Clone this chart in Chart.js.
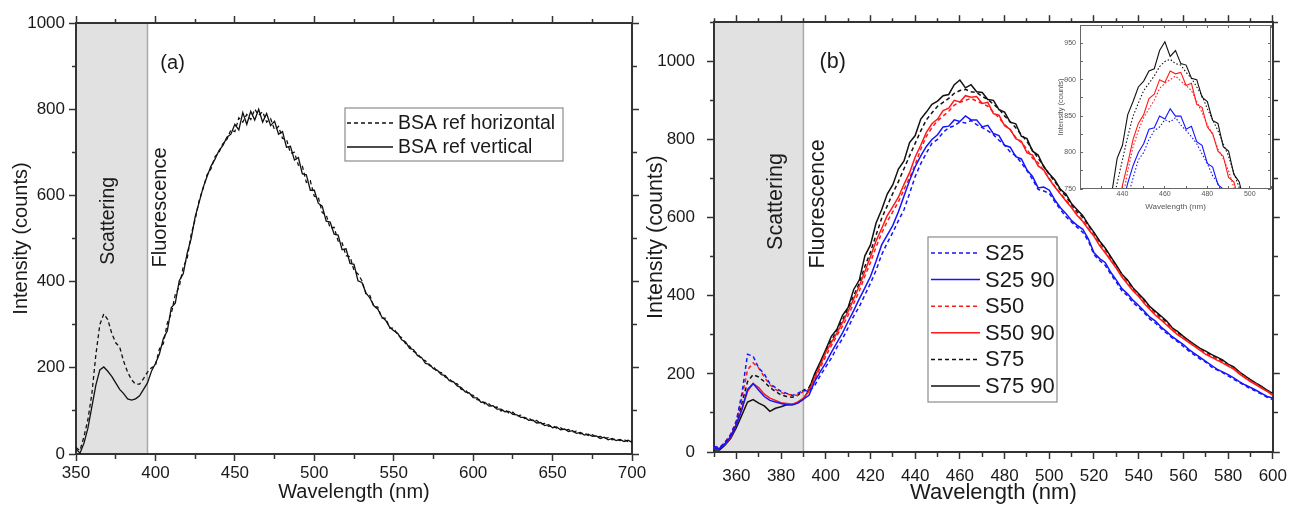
<!DOCTYPE html>
<html>
<head>
<meta charset="utf-8">
<title>BSA fluorescence spectra</title>
<script src="https://cdn.jsdelivr.net/npm/chart.js@4.4.1/dist/chart.umd.min.js"></script>
<style>
  html, body { margin: 0; padding: 0; background: #fff; }
  body { width: 1294px; height: 506px; position: relative; overflow: hidden; }
  canvas { position: absolute; }
  #chartA { left: 0; top: 0; }
  #chartB { left: 640px; top: 0; }
  #chartInset { left: 1035px; top: 12px; }
</style>
</head>
<body>
<canvas id="chartA" width="660" height="506"></canvas>
<canvas id="chartB" width="654" height="506"></canvas>
<canvas id="chartInset" width="240" height="200"></canvas>
<script>
// ---- panel (a): BSA reference, 350-700 nm ----
var wlA = [
  350,352.5,355,357.5,360,362.5,365,367.5,370,372.5,375,377.5,380,382.5,385,387.5,390,392.5,395,397.5,
  400,402.5,405,407.5,410,412.5,415,417.5,420,422.5,425,427.5,430,432.5,435,437.5,440,442.5,445,447.5,
  450,452.5,455,457.5,460,462.5,465,467.5,470,472.5,475,477.5,480,482.5,485,487.5,490,492.5,495,497.5,
  500,502.5,505,507.5,510,512.5,515,517.5,520,522.5,525,527.5,530,532.5,535,537.5,540,542.5,545,547.5,
  550,552.5,555,557.5,560,562.5,565,567.5,570,572.5,575,577.5,580,582.5,585,587.5,590,592.5,595,597.5,
  600,602.5,605,607.5,610,612.5,615,617.5,620,622.5,625,627.5,630,632.5,635,637.5,640,642.5,645,647.5,
  650,652.5,655,657.5,660,662.5,665,667.5,670,672.5,675,677.5,680,682.5,685,687.5,690,692.5,695,697.5,
  700
];
var bsaHorizontal = [
  15,8,40,80,140,230,300,325,312,280,258,248,215,190,172,162,162,175,190,200,
  205,244,256,304,326,370,388,434,454,510,544,588,616,648,662,690,700,720,730,752,
  748,780,770,788,776,800,786,794,770,778,752,760,732,730,698,700,670,668,630,634,
  598,596,560,555,524,526,494,490,460,458,426,418,402,372,368,342,341,316,315,292,
  292,276,270,256,250,238,233,220,216,205,203,190,189,178,175,164,163,150,149,138,
  136,126,125,116,116,108,109,100,103,95,97,88,90,82,84,76,78,70,71,64,
  66,60,61,55,57,51,53,47,49,43,45,40,41,36,38,33,35,31,33,29,
  30
];
var bsaVertical = [
  12,2,25,60,110,160,195,202,192,180,165,150,140,128,125,128,135,150,165,192,
  210,232,268,286,340,350,402,418,466,500,550,584,618,644,668,684,704,716,735,742,
  765,752,792,765,795,775,800,770,790,762,772,742,748,712,714,682,688,650,648,612,
  612,582,575,540,538,510,508,474,476,442,440,402,398,374,362,344,336,318,310,294,
  286,280,265,260,245,242,228,224,210,208,198,194,184,182,170,168,158,154,144,142,
  131,130,120,120,111,112,104,104,98,99,92,91,85,85,78,79,72,73,66,68,
  61,63,56,58,52,54,48,50,44,46,41,42,36,39,33,36,31,34,29,32,
  27
];
var xLabelsA = [350, 400, 450, 500, 550, 600, 650, 700];
var yLabelsA = [0, 200, 400, 600, 800, 1000];

// ---- panel (b): S25 / S50 / S75, 350-600 nm ----
var wlB = [
  350,352.5,355,357.5,360,362.5,365,367.5,370,372.5,375,377.5,380,382.5,385,387.5,390,392.5,395,397.5,
  400,402.5,405,407.5,410,412.5,415,417.5,420,422.5,425,427.5,430,432.5,435,437.5,440,442.5,445,447.5,
  450,452.5,455,457.5,460,462.5,465,467.5,470,472.5,475,477.5,480,482.5,485,487.5,490,492.5,495,497.5,
  500,502.5,505,507.5,510,512.5,515,517.5,520,522.5,525,527.5,530,532.5,535,537.5,540,542.5,545,547.5,
  550,552.5,555,557.5,560,562.5,565,567.5,570,572.5,575,577.5,580,582.5,585,587.5,590,592.5,595,597.5,
  600
];
var s25 = [
  15,10,25,45,80,150,250,245,215,200,175,165,155,150,145,150,158,155,170,195,
  218,240,268,290,318,348,372,402,432,465,505,535,562,592,620,662,705,738,765,790,
  800,818,830,835,845,842,848,838,830,822,812,798,785,768,758,740,720,698,672,668,
  662,640,620,602,588,575,562,540,505,490,478,455,435,412,400,382,370,356,340,330,
  316,304,292,282,270,258,248,238,230,218,210,203,195,186,178,170,162,155,148,140,
  134
];
var s25_90 = [
  10,8,22,40,70,110,160,175,158,142,132,128,124,121,120,125,135,145,180,205,
  228,255,280,305,334,362,392,420,449,488,530,555,580,615,655,695,730,758,782,800,
  812,832,834,850,846,860,850,850,832,836,815,810,785,780,756,750,722,705,676,678,
  670,645,625,610,592,580,570,545,510,495,485,460,440,418,405,388,375,360,345,335,
  320,308,295,285,275,262,252,242,232,222,212,205,198,190,180,172,165,158,150,142,
  138
];
var s50 = [
  12,12,25,45,78,140,210,228,215,192,172,160,152,148,146,145,155,160,185,215,
  245,272,298,322,350,380,412,450,485,525,560,590,615,640,672,702,735,775,808,830,
  848,860,872,888,895,900,905,898,892,885,870,855,838,825,805,792,775,752,740,720,
  700,680,662,645,628,608,592,572,555,532,512,492,472,452,432,415,400,382,368,352,
  340,328,315,302,292,282,272,262,252,245,238,230,222,214,203,192,182,174,165,156,
  148
];
var s50_90 = [
  8,10,20,38,70,110,155,175,165,148,138,132,126,124,122,128,138,155,190,222,
  255,280,305,332,360,392,425,462,500,540,572,605,628,652,685,715,755,785,818,840,
  852,874,880,900,896,912,908,910,892,895,866,862,835,826,802,795,766,760,732,722,
  698,678,660,642,625,605,590,570,552,528,510,490,470,448,430,412,398,380,365,350,
  338,325,312,300,290,280,270,260,250,243,235,228,220,212,200,190,180,172,163,155,
  145
];
var s75 = [
  10,8,20,40,72,125,180,198,192,180,165,155,146,142,140,145,158,165,195,225,
  258,285,312,338,368,400,432,475,512,555,598,630,662,692,725,758,790,822,850,868,
  885,895,905,918,925,928,922,920,910,902,890,878,860,845,830,812,795,772,752,732,
  710,692,670,655,632,615,600,580,560,538,520,498,476,454,438,418,403,388,370,358,
  345,332,316,305,294,283,273,263,256,248,240,233,223,216,204,194,184,175,166,157,
  148
];
var s75_90 = [
  5,5,18,35,62,95,128,134,125,118,104,112,116,121,122,126,135,160,200,230,
  262,296,314,350,370,416,440,502,530,586,620,660,684,724,745,792,810,852,870,890,
  898,912,915,940,952,932,940,922,920,902,900,876,870,844,840,808,802,770,760,730,
  712,696,672,660,635,620,605,582,562,540,522,500,478,455,440,420,405,390,372,360,
  348,335,318,308,296,285,275,265,258,250,243,236,225,218,205,195,185,176,168,158,
  150
];
var xLabelsB = [360, 380, 400, 420, 440, 460, 480, 500, 520, 540, 560, 580, 600];
var yLabelsB = [0, 200, 400, 600, 800, 1000];
var xLabelsInset = [440, 460, 480, 500];
var yLabelsInset = [750, 800, 850, 900, 950];

var BLUE = '#1414ff', RED = '#ff1a1a', BLACK = '#111';
var AXIS = '#333', TEXT = '#1a1a1a';

Chart.defaults.font.family = "'Liberation Sans', Arial, sans-serif";
Chart.defaults.color = TEXT;

function pts(wl, vals) {
  return wl.map(function (w, i) { return { x: w, y: vals[i] }; });
}

function line(label, wl, vals, color, dashed, width) {
  return {
    label: label,
    data: pts(wl, vals),
    borderColor: color,
    borderWidth: width,
    borderDash: dashed ? [4, 3] : [],
    pointRadius: 0,
    tension: 0,
    fill: false
  };
}

// one side of the frame: outward ticks, long on labelled values, short otherwise
function frameAxis(pos, min, max, step, labels, o) {
  var horiz = pos === 'top' || pos === 'bottom';
  var main = pos === 'bottom' || pos === 'left';
  var tl = 7, ml = 4;
  var ax = {
    type: 'linear', position: pos, min: min, max: max,
    afterFit: function (s) { if (horiz) s.height = o.size; else s.width = o.size; },
    ticks: {
      display: main, stepSize: step, autoSkip: false, maxRotation: 0,
      padding: o.pad || 0, color: TEXT, font: { size: 17 },
      callback: function (v) { return labels.indexOf(v) >= 0 ? String(v) : ''; }
    },
    grid: {
      drawOnChartArea: false, tickLength: tl, tickColor: AXIS, tickWidth: 1.5,
      tickBorderDash: function (c) {
        if (!c.tick || labels.indexOf(c.tick.value) >= 0) return [];
        return (pos === 'top' || pos === 'left') ? [0, tl - ml, ml, 50] : [ml, 50];
      }
    },
    border: { color: AXIS, width: 2 }
  };
  if (o.title) {
    ax.title = {
      display: true, text: o.title, color: TEXT, font: { size: o.titleSize },
      padding: horiz ? { top: 0, bottom: o.titlePad } : { top: o.titlePad, bottom: 0 }
    };
  }
  return ax;
}

// grey "Scattering" band, drawn under the axes
var shadePlugin = {
  id: 'shade',
  beforeDraw: function (chart, args, o) {
    var x = chart.scales.x, a = chart.chartArea, ctx = chart.ctx;
    var x0 = x.getPixelForValue(o.from), x1 = x.getPixelForValue(o.to);
    ctx.save();
    ctx.fillStyle = '#e1e1e1';
    ctx.fillRect(x0, a.top, x1 - x0, a.bottom - a.top);
    ctx.strokeStyle = '#a9a9a9';
    ctx.lineWidth = 1.5;
    ctx.beginPath();
    ctx.moveTo(x1, a.top);
    ctx.lineTo(x1, a.bottom);
    ctx.stroke();
    ctx.restore();
  }
};

// free texts placed in data coordinates
var notesPlugin = {
  id: 'notes',
  afterDatasetsDraw: function (chart, args, o) {
    var ctx = chart.ctx, sx = chart.scales.x, sy = chart.scales.y;
    ctx.save();
    ctx.fillStyle = TEXT;
    ctx.textAlign = 'center';
    ctx.textBaseline = 'middle';
    o.items.forEach(function (it) {
      ctx.save();
      ctx.translate(sx.getPixelForValue(it.x), sy.getPixelForValue(it.y));
      if (it.rotate) ctx.rotate(-Math.PI / 2);
      ctx.font = it.size + "px 'Liberation Sans', Arial, sans-serif";
      ctx.fillText(it.text, 0, 0);
      ctx.restore();
    });
    ctx.restore();
  }
};

// boxed legend like the original figure
var boxLegendPlugin = {
  id: 'boxLegend',
  afterDraw: function (chart, args, o) {
    var ctx = chart.ctx;
    ctx.save();
    ctx.fillStyle = '#fff';
    ctx.fillRect(o.left, o.top, o.width, o.height);
    ctx.strokeStyle = '#8c8c8c';
    ctx.lineWidth = 1.2;
    ctx.strokeRect(o.left, o.top, o.width, o.height);
    chart.data.datasets.forEach(function (ds, i) {
      var yy = o.top + o.first + i * o.rowH;
      ctx.strokeStyle = ds.borderColor;
      ctx.lineWidth = ds.borderWidth;
      ctx.setLineDash(ds.borderDash || []);
      ctx.beginPath();
      ctx.moveTo(o.left + o.lineFrom, yy);
      ctx.lineTo(o.left + o.lineTo, yy);
      ctx.stroke();
      ctx.setLineDash([]);
      ctx.fillStyle = TEXT;
      ctx.font = o.fontSize + "px 'Liberation Sans', Arial, sans-serif";
      ctx.textBaseline = 'middle';
      ctx.fillText(ds.label, o.left + o.textX, yy + 1);
    });
    ctx.restore();
  }
};

// white plot area + thin frame for the inset
var insetFramePlugin = {
  id: 'insetFrame',
  beforeDraw: function (chart) {
    var a = chart.chartArea, ctx = chart.ctx;
    ctx.save();
    ctx.fillStyle = '#fff';
    ctx.fillRect(a.left, a.top, a.right - a.left, a.bottom - a.top);
    ctx.restore();
  },
  afterDraw: function (chart) {
    var a = chart.chartArea, ctx = chart.ctx;
    ctx.save();
    ctx.strokeStyle = '#666';
    ctx.lineWidth = 1;
    ctx.strokeRect(a.left + 0.5, a.top + 0.5, a.right - a.left - 1, a.bottom - a.top - 1);
    ctx.restore();
  }
};

// ---- chart (a) ----
new Chart(document.getElementById('chartA'), {
  type: 'line',
  data: {
    datasets: [
      line('BSA ref horizontal', wlA, bsaHorizontal, BLACK, true, 1.3),
      line('BSA ref vertical', wlA, bsaVertical, BLACK, false, 1.3)
    ]
  },
  options: {
    responsive: false, animation: false, devicePixelRatio: 1,
    layout: { padding: 0 },
    plugins: {
      legend: { display: false }, tooltip: { enabled: false },
      shade: { from: 350, to: 395 },
      notes: { items: [
        { text: '(a)', x: 410.8, y: 907, size: 20 },
        { text: 'Scattering', x: 370.8, y: 541, size: 19.5, rotate: true },
        { text: 'Fluorescence', x: 402.9, y: 572, size: 20, rotate: true }
      ] },
      boxLegend: { left: 345, top: 108, width: 218, height: 53, first: 15, rowH: 24,
                   lineFrom: 2, lineTo: 48, textX: 53, fontSize: 19.5 }
    },
    scales: {
      x: frameAxis('bottom', 350, 700, 25, xLabelsA,
                   { size: 52, pad: 2, title: 'Wavelength (nm)', titleSize: 20, titlePad: 2 }),
      xTop: frameAxis('top', 350, 700, 25, xLabelsA, { size: 23 }),
      y: frameAxis('left', 0, 1000, 100, yLabelsA,
                   { size: 76, pad: 4, title: 'Intensity (counts)', titleSize: 20, titlePad: 9 }),
      yRight: frameAxis('right', 0, 1000, 100, yLabelsA, { size: 28 })
    }
  },
  plugins: [shadePlugin, notesPlugin, boxLegendPlugin]
});

// ---- chart (b) ----
var seriesB = [
  line('S25', wlB, s25, BLUE, true, 1.5),
  line('S25 90', wlB, s25_90, BLUE, false, 1.5),
  line('S50', wlB, s50, RED, true, 1.5),
  line('S50 90', wlB, s50_90, RED, false, 1.5),
  line('S75', wlB, s75, BLACK, true, 1.5),
  line('S75 90', wlB, s75_90, BLACK, false, 1.5)
];

new Chart(document.getElementById('chartB'), {
  type: 'line',
  data: { datasets: seriesB },
  options: {
    responsive: false, animation: false, devicePixelRatio: 1,
    layout: { padding: 0 },
    plugins: {
      legend: { display: false }, tooltip: { enabled: false },
      shade: { from: 350, to: 390 },
      notes: { items: [
        { text: '(b)', x: 403.1, y: 999, size: 21.5 },
        { text: 'Scattering', x: 377.6, y: 641, size: 21.5, rotate: true },
        { text: 'Fluorescence', x: 396.4, y: 635, size: 21.5, rotate: true }
      ] },
      boxLegend: { left: 288, top: 237, width: 129, height: 165, first: 16, rowH: 26.6,
                   lineFrom: 3, lineTo: 52, textX: 57, fontSize: 22 }
    },
    scales: {
      x: frameAxis('bottom', 350, 600, 10, xLabelsB,
                   { size: 54, pad: 7, title: 'Wavelength (nm)', titleSize: 22, titlePad: 0 }),
      xTop: frameAxis('top', 350, 600, 10, xLabelsB, { size: 21 }),
      y: frameAxis('left', 0, 1100, 100, yLabelsB,
                   { size: 74, pad: 12, title: 'Intensity (counts)', titleSize: 21.5, titlePad: 3 }),
      yRight: frameAxis('right', 0, 1100, 100, yLabelsB, { size: 17 })
    }
  },
  plugins: [shadePlugin, notesPlugin, boxLegendPlugin]
});

// ---- inset: zoom on the maxima ----
function insetLine(ds) {
  return {
    label: ds.label, data: ds.data, borderColor: ds.borderColor,
    borderWidth: 1.1, borderDash: ds.borderDash.length ? [1.5, 2] : [],
    pointRadius: 0, tension: 0, fill: false
  };
}

function insetTicks(horiz) {
  // inward tick marks at both frame sides, drawn as dashed grid lines
  return function (c) {
    var a = c.chart.chartArea;
    var len = horiz ? a.bottom - a.top : a.right - a.left;
    return [3, len - 6, 3, 1000];
  };
}

new Chart(document.getElementById('chartInset'), {
  type: 'line',
  data: { datasets: seriesB.map(insetLine) },
  options: {
    responsive: false, animation: false, devicePixelRatio: 1,
    layout: { padding: { top: 13, right: 4, left: 0, bottom: 0 } },
    plugins: { legend: { display: false }, tooltip: { enabled: false } },
    scales: {
      x: {
        type: 'linear', position: 'bottom', min: 420, max: 510,
        afterFit: function (s) { s.height = 23; },
        ticks: {
          stepSize: 10, autoSkip: false, maxRotation: 0, padding: 1,
          color: '#555', font: { size: 7 },
          callback: function (v) { return xLabelsInset.indexOf(v) >= 0 ? String(v) : ''; }
        },
        grid: { drawTicks: false, color: '#666', lineWidth: 1 },
        border: { display: false, dash: insetTicks(true) },
        title: { display: true, text: 'Wavelength (nm)', color: '#555',
                 font: { size: 8 }, padding: { top: 0, bottom: 0 } }
      },
      y: {
        type: 'linear', position: 'left', min: 750, max: 975,
        afterFit: function (s) { s.width = 45; },
        ticks: {
          stepSize: 25, autoSkip: false, padding: 4,
          color: '#555', font: { size: 7 },
          callback: function (v) { return yLabelsInset.indexOf(v) >= 0 ? String(v) : ''; }
        },
        grid: { drawTicks: false, color: '#666', lineWidth: 1 },
        border: { display: false, dash: insetTicks(false) },
        title: { display: true, text: 'Intensity (counts)', color: '#555',
                 font: { size: 7.5 }, padding: { top: 21, bottom: 0 } }
      }
    }
  },
  plugins: [insetFramePlugin]
});
</script>
</body>
</html>
